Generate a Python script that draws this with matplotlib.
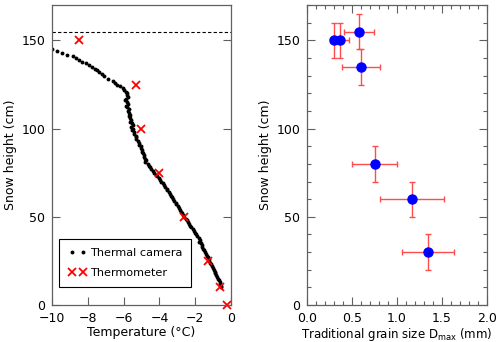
import numpy as np
import matplotlib.pyplot as plt
from matplotlib.ticker import MultipleLocator

# thermal camera profile (snow height in cm, temperature in degC)
cam_h = [145, 144, 143, 142, 141, 140, 139, 138, 137, 136, 135, 134, 133, 132, 131, 130,
         128, 127, 126, 125, 124, 123, 122, 121, 120, 119, 118, 117, 116, 115, 114, 113,
         112, 111, 110, 109, 108, 107, 106, 105, 104, 103, 102, 101, 100, 99, 98, 97, 96,
         95, 94, 93, 92, 91, 90, 89, 88, 87, 86, 85, 84, 83, 82, 81, 80, 79, 78, 77, 76,
         75, 74, 73, 72, 71, 70, 69, 68, 67, 66, 65, 64, 63, 62, 61, 60, 59, 58, 57, 56,
         55, 54, 53, 52, 51, 50, 49, 48, 47, 46, 45, 44, 43, 42, 41, 40, 39, 38, 37, 36,
         35, 34, 33, 32, 31, 30, 29, 28, 27, 26, 25, 24, 23, 22, 21, 20, 19, 18, 17, 16,
         15, 14, 13, 12, 11, 10]
cam_t = [-10.00, -9.72, -9.45, -9.15, -8.85, -8.68, -8.50, -8.30, -8.12, -7.92, -7.78, -7.62,
         -7.48, -7.35, -7.22, -7.10, -6.85, -6.62, -6.50, -6.38, -6.18, -6.05, -5.95, -5.88,
         -5.82, -5.80, -5.74, -5.86, -5.90, -5.82, -5.78, -5.85, -5.80, -5.72, -5.75, -5.70,
         -5.66, -5.72, -5.64, -5.58, -5.62, -5.55, -5.50, -5.56, -5.48, -5.52, -5.40, -5.42,
         -5.33, -5.28, -5.32, -5.22, -5.12, -5.15, -5.05, -5.02, -4.95, -4.98, -4.90, -4.85,
         -4.88, -4.80, -4.74, -4.78, -4.66, -4.58, -4.52, -4.45, -4.38, -4.28, -4.20, -4.12,
         -4.05, -3.98, -3.92, -3.82, -3.76, -3.70, -3.60, -3.55, -3.46, -3.40, -3.35, -3.28,
         -3.22, -3.16, -3.10, -3.05, -2.98, -2.92, -2.86, -2.80, -2.74, -2.68, -2.60, -2.52,
         -2.46, -2.40, -2.34, -2.28, -2.22, -2.15, -2.08, -2.02, -1.95, -1.88, -1.80, -1.74,
         -1.78, -1.70, -1.62, -1.60, -1.54, -1.50, -1.47, -1.42, -1.36, -1.30, -1.25, -1.22,
         -1.18, -1.12, -1.06, -1.02, -0.96, -0.92, -0.88, -0.82, -0.76, -0.72, -0.66, -0.62,
         -0.60, -0.56, -0.58]

# thermometer readings
thermo_h = [150, 125, 100, 75, 50, 25, 10, 0]
thermo_t = [-8.5, -5.3, -5.0, -4.0, -2.6, -1.3, -0.6, -0.2]

snow_top = 155

# traditional grain size
grain_d = [0.30, 0.37, 0.58, 0.60, 0.75, 1.17, 1.34]
grain_h = [150, 150, 155, 135, 80, 60, 30]
grain_derr = [0.05, 0.10, 0.165, 0.21, 0.25, 0.355, 0.29]
grain_herr = [10, 10, 10, 10, 10, 10, 10]

fs = 9
spine_col = '#606060'

fig = plt.figure(figsize=(5, 3.42), dpi=100)
ax1 = fig.add_axes([0.104, 0.108, 0.358, 0.877])
ax2 = fig.add_axes([0.614, 0.108, 0.360, 0.877])

ax1.plot(cam_t, cam_h, 'o', color='black', markersize=2.8, markeredgewidth=0,
         label='Thermal camera')
ax1.plot(thermo_t, thermo_h, 'x', color='red', markersize=6, markeredgewidth=1.3,
         label='Thermometer', clip_on=False)
ax1.axhline(snow_top, color='black', lw=0.8, ls=(0, (3, 2)))
ax1.set_xlim(-10, 0)
ax1.set_ylim(0, 170)
ax1.set_xticks([-10, -8, -6, -4, -2, 0])
ax1.set_yticks([0, 50, 100, 150])
ax1.set_xlabel('Temperature (°C)', fontsize=fs, labelpad=1)
ax1.set_ylabel('Snow height (cm)', fontsize=fs, labelpad=3)
ax1.tick_params(direction='in', length=6, width=0.8, color=spine_col,
                labelsize=fs, right=True, pad=5)
leg = ax1.legend(loc='lower left', numpoints=2, fontsize=8.1, fancybox=False,
                 edgecolor='black', framealpha=1, bbox_to_anchor=(0.04, 0.06),
                 borderaxespad=0, handletextpad=0.3, handlelength=1.6,
                 borderpad=0.8, labelspacing=0.9)
leg.get_frame().set_linewidth(0.8)

ax2.errorbar(grain_d, grain_h, xerr=grain_derr, yerr=grain_herr, fmt='o',
             color='blue', markersize=6.5, ecolor='#ff4d4d', elinewidth=1,
             capsize=2.5, capthick=1)
ax2.set_xlim(0, 2)
ax2.set_ylim(0, 170)
ax2.set_yticks([0, 50, 100, 150])
ax2.set_xticks([0.0, 0.5, 1.0, 1.5, 2.0])
ax2.xaxis.set_minor_locator(MultipleLocator(0.1))
ax2.yaxis.set_minor_locator(MultipleLocator(10))
ax2.set_xlabel('Traditional grain size D$_{\\mathrm{max}}$ (mm)', fontsize=8.5, labelpad=1)
ax2.set_ylabel('Snow height (cm)', fontsize=fs, labelpad=3)
ax2.tick_params(which='major', direction='in', length=6, width=0.8, color=spine_col,
                labelsize=fs, right=True, top=True, pad=5)
ax2.tick_params(which='minor', direction='in', length=3, width=0.8, color=spine_col,
                right=True, top=True)

for ax in (ax1, ax2):
    for sp in ax.spines.values():
        sp.set_color(spine_col)
        sp.set_linewidth(0.9)

fig.savefig('out.png', dpi=100)
